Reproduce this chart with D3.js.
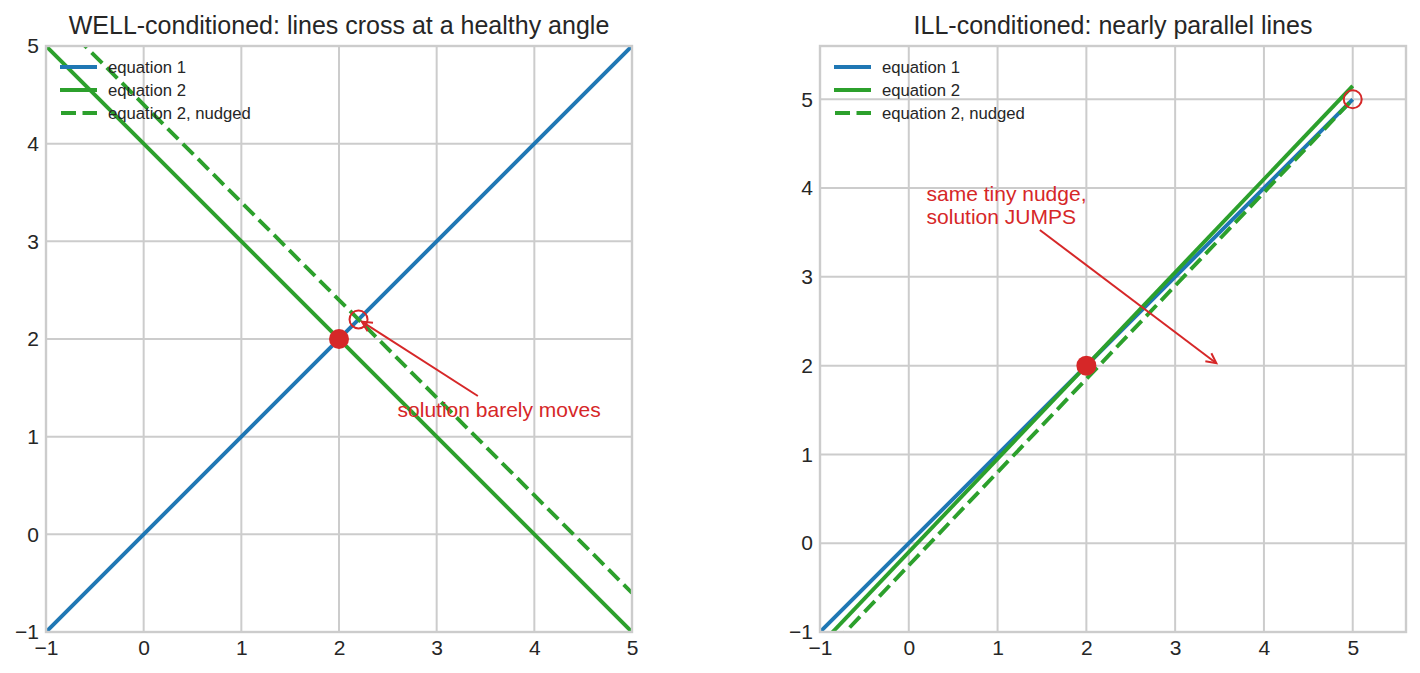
<!DOCTYPE html>
<html>
<head>
<meta charset="utf-8">
<script src="https://cdn.jsdelivr.net/npm/d3@7"></script>
<style>
  html, body { margin: 0; padding: 0; background: #fff; }
  svg { display: block; font-family: "Liberation Sans", Arial, sans-serif; }
</style>
</head>
<body>
<div id="chart"></div>
<script>
// Two panels: a well-conditioned 2x2 system vs an ill-conditioned one
const seriesNames = ["equation 1", "equation 2", "equation 2, nudged"];
const ticks = [-1, 0, 1, 2, 3, 4, 5];

// line endpoints [x, y]
const wellEq1 = [[-1, -1], [5, 5]];
const wellEq2 = [[-1, 5], [5, -1]];
const wellEq2Nudged = [[-1, 5.4], [5, -0.6]];
const wellSolution = [2, 2];
const wellNudgedSolution = [2.2, 2.2];

const illEq1 = [[-1, -1], [5, 5]];
const illEq2 = [[-1, -1.15], [5, 5.15]];
const illEq2Nudged = [[-1, -1.3], [5, 5.0]];
const illSolution = [2, 2];
const illNudgedSolution = [5, 5];

const panels = [
  {
    title: "WELL-conditioned: lines cross at a healthy angle",
    left: 46, domain: [-1, 5],
    lines: [wellEq1, wellEq2, wellEq2Nudged],
    solution: wellSolution, nudged: wellNudgedSolution,
    note: ["solution barely moves"], noteAt: [2.6, 1.2], noteTarget: [2.2, 2.2],
  },
  {
    title: "ILL-conditioned: nearly parallel lines",
    left: 820, domain: [-1, 5.6],
    lines: [illEq1, illEq2, illEq2Nudged],
    solution: illSolution, nudged: illNudgedSolution,
    note: ["same tiny nudge,", "solution JUMPS"], noteAt: [0.2, 3.6], noteTarget: [3.5, 2.0],
  },
];

const width = 1420, height = 673;
const plotTop = 46, size = 586;
const colors = ["#1f77b4", "#2ca02c", "#2ca02c"];
const red = "#d62728";
const textColor = "#262626";
const gridColor = "#cccccc";
const lineWidth = 3.9;
const dash = "15,6.5";

const svg = d3.select("#chart").append("svg")
  .attr("width", width)
  .attr("height", height)
  .attr("viewBox", [0, 0, width, height]);

panels.forEach((p, i) => {
  const x = d3.scaleLinear().domain(p.domain).range([p.left, p.left + size]);
  const y = d3.scaleLinear().domain(p.domain).range([plotTop + size, plotTop]);
  const g = svg.append("g");

  const clipId = "clip" + i;
  g.append("clipPath").attr("id", clipId)
    .append("rect")
    .attr("x", p.left).attr("y", plotTop)
    .attr("width", size).attr("height", size);

  // grid
  const inner = ticks.filter((t) => t > p.domain[0] && t < p.domain[1]);
  g.append("g")
    .selectAll("line")
    .data(inner)
    .join("line")
    .attr("x1", (d) => x(d)).attr("x2", (d) => x(d))
    .attr("y1", plotTop).attr("y2", plotTop + size)
    .attr("stroke", gridColor).attr("stroke-width", 2);
  g.append("g")
    .selectAll("line")
    .data(inner)
    .join("line")
    .attr("y1", (d) => y(d)).attr("y2", (d) => y(d))
    .attr("x1", p.left).attr("x2", p.left + size)
    .attr("stroke", gridColor).attr("stroke-width", 2);

  // axes via d3.axis, restyled to look like matplotlib's whitegrid
  const fmt = (d) => (d < 0 ? "\u2212" + Math.abs(d) : d);
  const xAxis = g.append("g")
    .attr("transform", `translate(0,${plotTop + size})`)
    .call(d3.axisBottom(x).tickValues(ticks).tickSize(0).tickPadding(8).tickFormat(fmt));
  const yAxis = g.append("g")
    .attr("transform", `translate(${p.left},0)`)
    .call(d3.axisLeft(y).tickValues(ticks).tickSize(0).tickPadding(7).tickFormat(fmt));
  [xAxis, yAxis].forEach((a) => {
    a.select(".domain").remove();
    a.selectAll("text")
      .attr("fill", textColor)
      .style("font-size", "21px")
      .style("font-family", '"Liberation Sans", Arial, sans-serif');
  });

  // lines
  const line = d3.line().x((d) => x(d[0])).y((d) => y(d[1]));
  g.append("g")
    .attr("clip-path", `url(#${clipId})`)
    .selectAll("path")
    .data(p.lines)
    .join("path")
    .attr("d", line)
    .attr("fill", "none")
    .attr("stroke", (d, j) => colors[j])
    .attr("stroke-width", lineWidth)
    .attr("stroke-dasharray", (d, j) => (j === 2 ? dash : null));

  // frame
  g.append("rect")
    .attr("x", p.left).attr("y", plotTop)
    .attr("width", size).attr("height", size)
    .attr("fill", "none")
    .attr("stroke", gridColor).attr("stroke-width", 2.4);

  // solutions
  g.append("circle")
    .attr("cx", x(p.solution[0])).attr("cy", y(p.solution[1]))
    .attr("r", 10).attr("fill", red);
  g.append("circle")
    .attr("cx", x(p.nudged[0])).attr("cy", y(p.nudged[1]))
    .attr("r", 9).attr("fill", "none")
    .attr("stroke", red).attr("stroke-width", 2);

  // annotation text
  const lineGap = 22.5;
  const baseY = y(p.noteAt[1]);
  const note = g.append("text")
    .attr("x", x(p.noteAt[0]))
    .attr("fill", red)
    .style("font-size", "21px");
  p.note.forEach((s, k) => {
    note.append("tspan")
      .attr("x", x(p.noteAt[0]))
      .attr("y", baseY - (p.note.length - 1 - k) * lineGap)
      .text(s);
  });

  // arrow from text box edge to target
  const bb = note.node().getBBox();
  const cx = bb.x + bb.width / 2, cy = bb.y + bb.height / 2;
  const tx = x(p.noteTarget[0]), ty = y(p.noteTarget[1]);
  const dx = tx - cx, dy = ty - cy;
  const len = Math.hypot(dx, dy);
  const ux = dx / len, uy = dy / len;
  const tEdge = Math.min(
    Math.abs(bb.width / 2 / (dx || 1e-9)),
    Math.abs(bb.height / 2 / (dy || 1e-9))
  );
  const sx = cx + dx * tEdge + ux * 4, sy = cy + dy * tEdge + uy * 4;
  const ex = tx - ux * 4, ey = ty - uy * 4;
  g.append("line")
    .attr("x1", sx).attr("y1", sy).attr("x2", ex).attr("y2", ey)
    .attr("stroke", red).attr("stroke-width", 2);
  const hl = 10, hw = 5;
  const bx = ex - ux * hl, by = ey - uy * hl;
  g.append("path")
    .attr("d", `M${bx - uy * hw},${by + ux * hw}L${ex},${ey}L${bx + uy * hw},${by - ux * hw}`)
    .attr("fill", "none").attr("stroke", red).attr("stroke-width", 2);

  // legend
  const lg = g.append("g").attr("transform", `translate(${p.left + 14},67)`);
  const items = lg.selectAll("g").data(seriesNames).join("g")
    .attr("transform", (d, j) => `translate(0,${j * 23})`);
  items.append("line")
    .attr("x1", 0).attr("x2", 37)
    .attr("stroke", (d, j) => colors[j])
    .attr("stroke-width", lineWidth)
    .attr("stroke-dasharray", (d, j) => (j === 2 ? dash : null))
    .attr("stroke-dashoffset", -1);
  items.append("text")
    .attr("x", 48).attr("dy", "0.35em")
    .attr("fill", textColor)
    .style("font-size", "16.7px")
    .text((d) => d);

  // title
  g.append("text")
    .attr("x", p.left + size / 2).attr("y", 34)
    .attr("text-anchor", "middle")
    .attr("fill", textColor)
    .style("font-size", "25px")
    .text(p.title);
});
</script>
</body>
</html>
